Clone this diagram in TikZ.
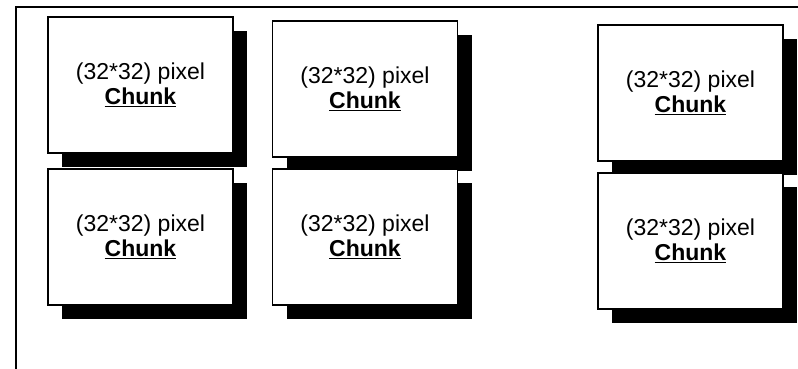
\documentclass[tikz,border=0pt]{standalone}
\usepackage{fontspec}
\setmainfont{Liberation Sans}
\usetikzlibrary{positioning,shadows}

\begin{document}
\begin{tikzpicture}[
    x=1pt, y=-1pt,
    chunk/.style={rectangle, draw=black, fill=white, line width=1.7pt, minimum width=185pt, minimum height=136pt, align=center, font=\fontsize{23}{25}\selectfont, drop shadow={shadow xshift=14pt, shadow yshift=-14pt, fill=black, opacity=1}},
    frame/.style={draw=black, line width=1.7pt}
]
    \useasboundingbox (0,0) rectangle (798,369);
    \draw [frame] (15.7,372) |- (801,6.7);

    \node [chunk] (c1) at (140.5,85) {(32*32) pixel\\\underline{\textbf{Chunk}}};
    \node [chunk, below=14pt of c1] (c2) {(32*32) pixel\\\underline{\textbf{Chunk}}};
    \node [chunk] (c3) at (365,89) {(32*32) pixel\\\underline{\textbf{Chunk}}};
    \node [chunk, below=10pt of c3] (c4) {(32*32) pixel\\\underline{\textbf{Chunk}}};
    \node [chunk] (c5) at (690.5,93) {(32*32) pixel\\\underline{\textbf{Chunk}}};
    \node [chunk, below=10pt of c5] (c6) {(32*32) pixel\\\underline{\textbf{Chunk}}};
\end{tikzpicture}
\end{document}
